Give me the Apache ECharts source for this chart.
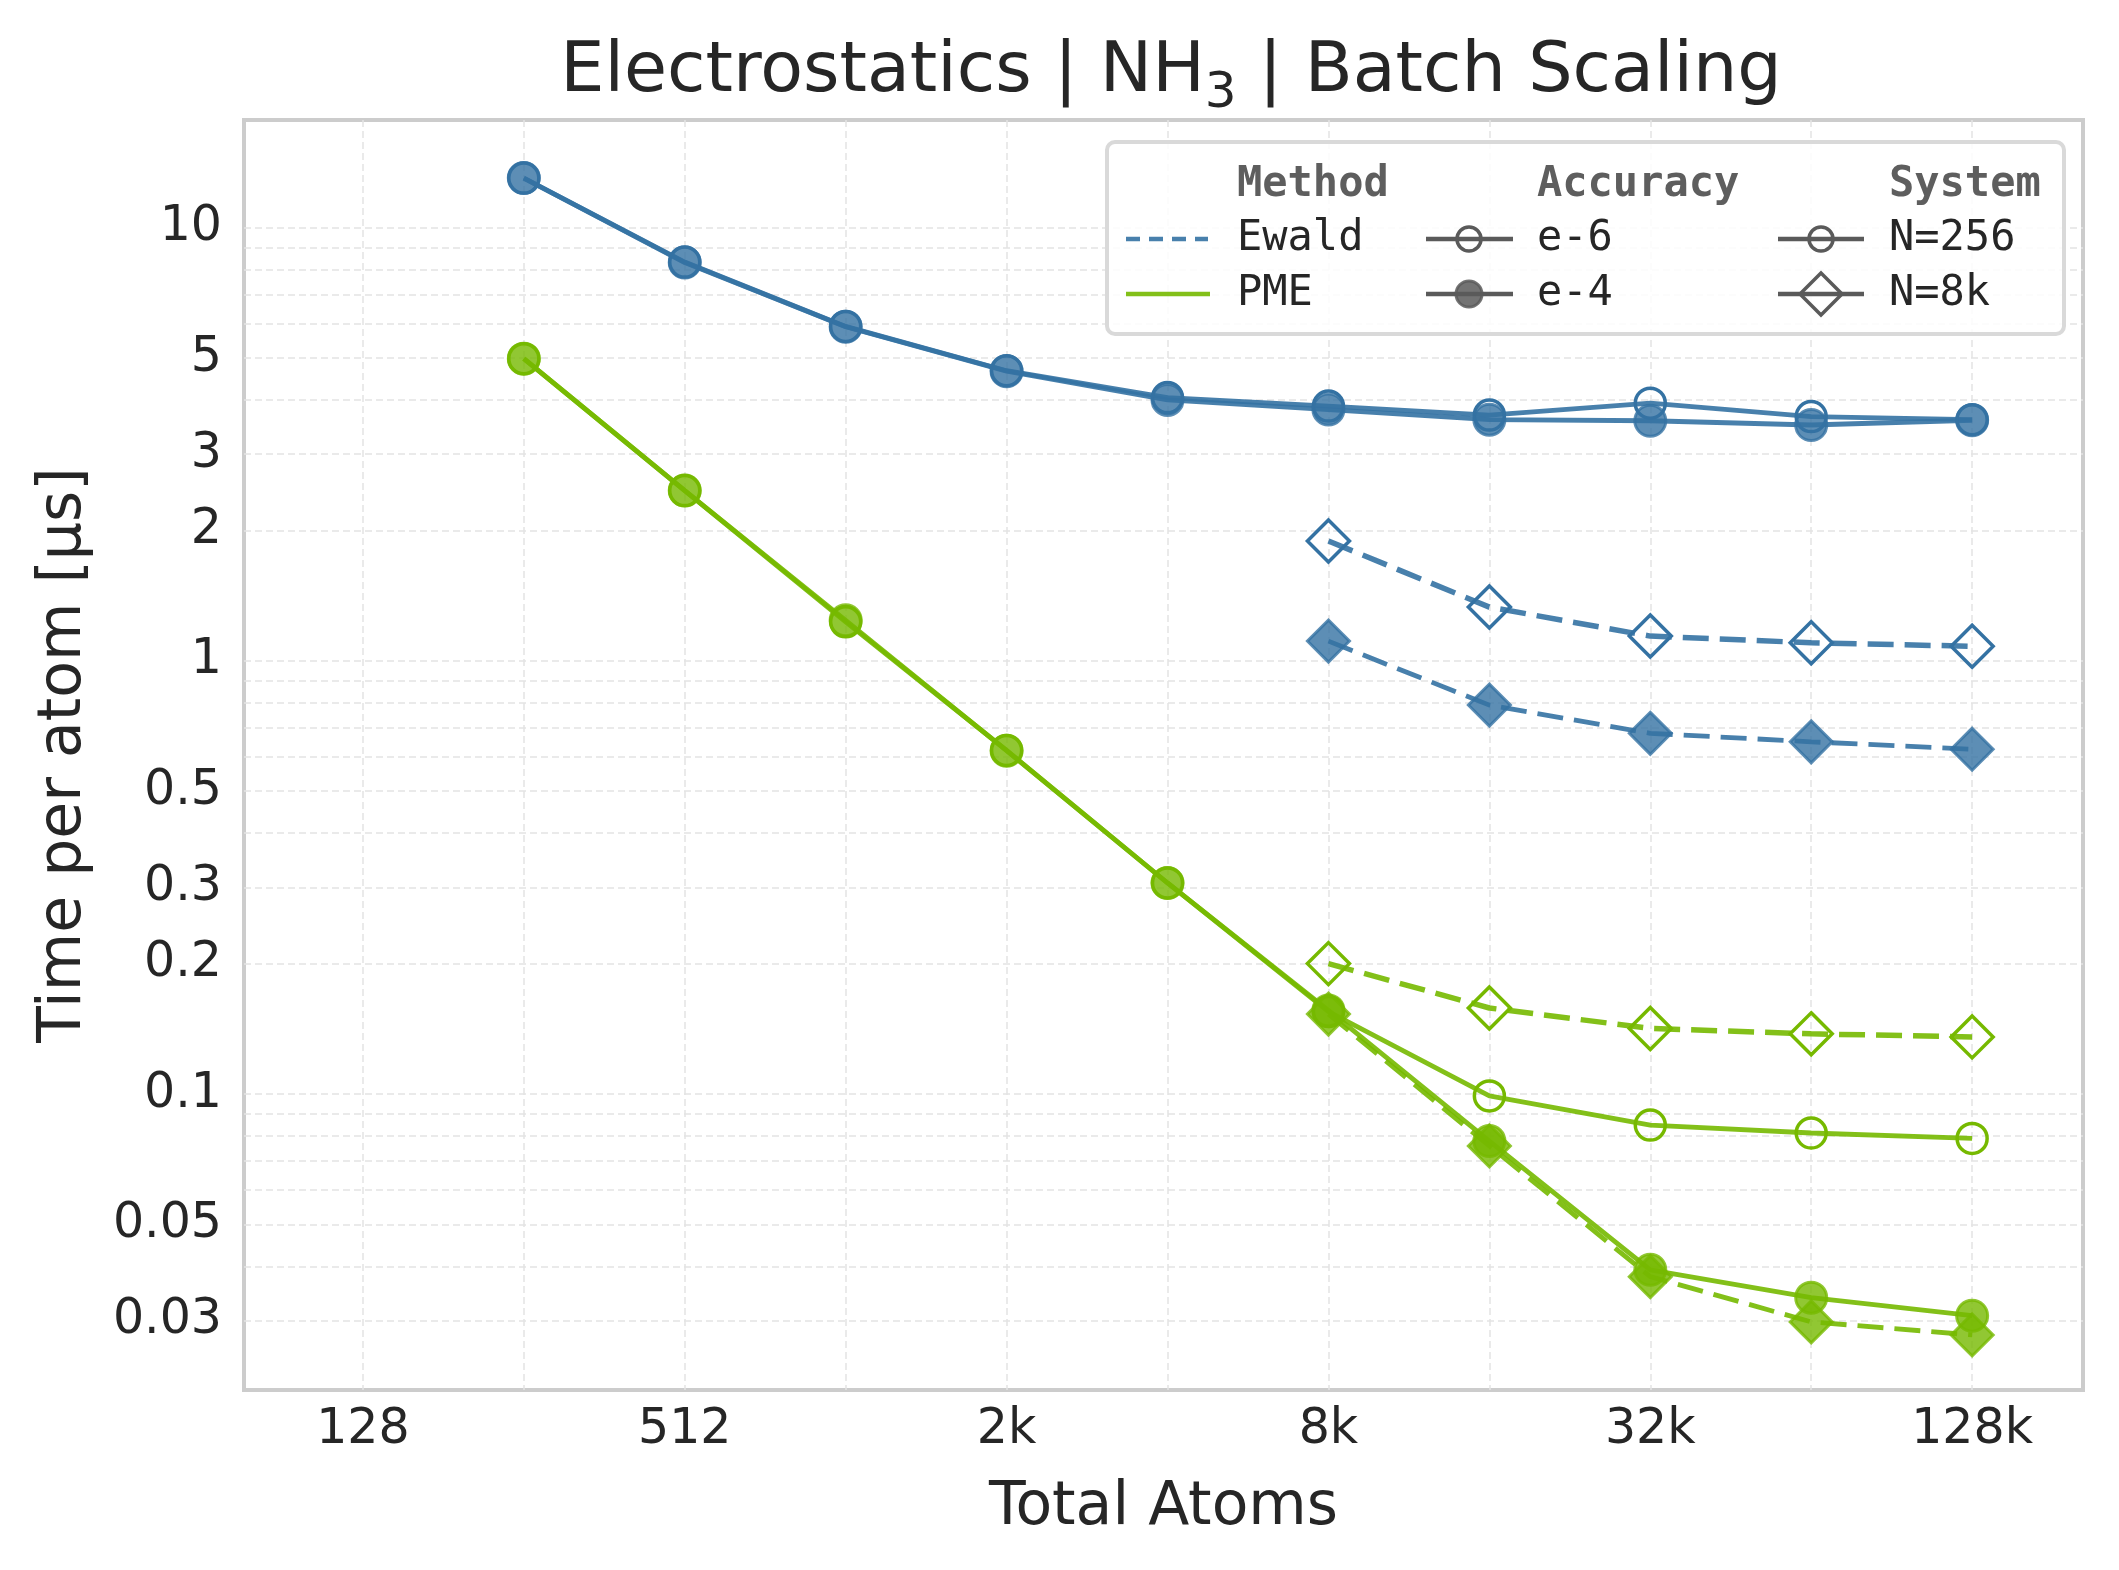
<!DOCTYPE html>
<html>
<head>
<meta charset="utf-8">
<title>Electrostatics | NH3 | Batch Scaling</title>
<script src="https://cdn.jsdelivr.net/npm/echarts@6/dist/echarts.min.js"></script>
<style>
  html, body { margin: 0; padding: 0; background: #fff; }
  #chart { width: 2119px; height: 1570px; }
</style>
</head>
<body>
<div id="chart"></div>
<script>
// total atoms (x), one list per system size
var atomsN256 = [256, 512, 1024, 2048, 4096, 8192, 16384, 32768, 65536, 131072];
var atomsN8k = [8192, 16384, 32768, 65536, 131072];

// time per atom [us]
var ewaldN256e6 = [13.0, 8.32, 5.91, 4.67, 4.05, 3.87, 3.69, 3.93, 3.66, 3.60];
var ewaldN256e4 = [13.0, 8.30, 5.90, 4.66, 4.00, 3.80, 3.60, 3.58, 3.50, 3.59];
var ewaldN8ke6 = [1.89, 1.33, 1.14, 1.10, 1.08];
var ewaldN8ke4 = [1.11, 0.79, 0.68, 0.65, 0.625];
var pmeN256e6 = [4.98, 2.47, 1.23, 0.621, 0.307, 0.155, 0.099, 0.0848, 0.0813, 0.079];
var pmeN256e4 = [4.98, 2.47, 1.24, 0.620, 0.307, 0.156, 0.0779, 0.0393, 0.0339, 0.0308];
var pmeN8ke6 = [0.200, 0.158, 0.1417, 0.1377, 0.1355];
var pmeN8ke4 = [0.153, 0.0759, 0.0379, 0.0298, 0.0278];

// axis ticks
var xTicks = [128, 256, 512, 1024, 2048, 4096, 8192, 16384, 32768, 65536, 131072];
var xLabels = [128, 512, 2048, 8192, 32768, 131072];
var yTicks = [0.03, 0.04, 0.05, 0.06, 0.07, 0.08, 0.09, 0.1, 0.2, 0.3, 0.4, 0.5, 0.6, 0.7, 0.8, 0.9,
  1, 2, 3, 4, 5, 6, 7, 8, 9, 10];
var yLabels = [0.03, 0.05, 0.1, 0.2, 0.3, 0.5, 1, 2, 3, 5, 10];

var BLUE = '#3472a3';
var BLUE_A = 'rgba(52,114,163,0.8)';
var GREEN = '#76b900';
var GREEN_A = 'rgba(118,185,0,0.8)';
var FONT = 'DejaVu Sans';
var MONO = 'DejaVu Sans Mono';

function pairs(xs, ys) {
  var out = [];
  for (var i = 0; i < xs.length; i++) out.push([xs[i], ys[i]]);
  return out;
}

function mk(name, xs, ys, color, colorA, filled, diamond, dashed, lw) {
  return {
    name: name,
    type: 'line',
    data: pairs(xs, ys),
    symbol: diamond ? 'diamond' : 'circle',
    symbolSize: diamond ? 42 : (filled ? 31 : 30),
    lineStyle: { color: color, width: lw, opacity: 0.9, type: dashed ? [26, 11] : 'solid' },
    itemStyle: filled
      ? { color: colorA, borderColor: colorA, borderWidth: 3 }
      : { color: 'rgba(0,0,0,0)', borderColor: color, borderWidth: 3.5 },
    emphasis: { disabled: true },
    z: 3
  };
}

function xFmt(v) {
  if (v >= 1024) return Math.round(v / 1024) + 'k';
  return String(v);
}

var chart = echarts.init(document.getElementById('chart'), null, { renderer: 'canvas' });

var gridLine = { show: true, lineStyle: { color: '#e3e3e3', width: 1.5, type: [7, 4] } };

// legend drawn by hand (three titled columns)
var LG = '#5a5a5a';
var LF = '42px ' + MONO;
var LH = 'bold 42px ' + MONO;
var R0 = 185, R1 = 239, R2 = 294;
var legend = [
  { type: 'rect', shape: { x: 1107, y: 142, width: 957, height: 192, r: 8 },
    style: { fill: 'rgba(255,255,255,0.85)', stroke: '#d9d9d9', lineWidth: 4 }, z: 10 },
  { type: 'text', style: { x: 1237, y: R0, text: 'Method', font: LH, fill: '#5e5e5e', textVerticalAlign: 'middle' }, z: 11 },
  { type: 'text', style: { x: 1537, y: R0, text: 'Accuracy', font: LH, fill: '#5e5e5e', textVerticalAlign: 'middle' }, z: 11 },
  { type: 'text', style: { x: 1889, y: R0, text: 'System', font: LH, fill: '#5e5e5e', textVerticalAlign: 'middle' }, z: 11 },

  { type: 'line', shape: { x1: 1126, y1: R1, x2: 1208, y2: R1 },
    style: { stroke: BLUE, lineWidth: 4.5, lineDash: [14, 9], opacity: 0.9 }, z: 11 },
  { type: 'text', style: { x: 1237, y: R1, text: 'Ewald', font: LF, fill: '#262626', textVerticalAlign: 'middle' }, z: 11 },
  { type: 'line', shape: { x1: 1126, y1: R2, x2: 1210, y2: R2 },
    style: { stroke: GREEN, lineWidth: 4.5, opacity: 0.9 }, z: 11 },
  { type: 'text', style: { x: 1237, y: R2, text: 'PME', font: LF, fill: '#262626', textVerticalAlign: 'middle' }, z: 11 },

  { type: 'line', shape: { x1: 1426, y1: R1, x2: 1513, y2: R1 }, style: { stroke: LG, lineWidth: 4.5 }, z: 11 },
  { type: 'circle', shape: { cx: 1469, cy: R1, r: 12 }, style: { fill: 'rgba(0,0,0,0)', stroke: LG, lineWidth: 3.5 }, z: 12 },
  { type: 'text', style: { x: 1537, y: R1, text: 'e-6', font: LF, fill: '#262626', textVerticalAlign: 'middle' }, z: 11 },
  { type: 'line', shape: { x1: 1426, y1: R2, x2: 1513, y2: R2 }, style: { stroke: LG, lineWidth: 4.5 }, z: 11 },
  { type: 'circle', shape: { cx: 1469, cy: R2, r: 13 }, style: { fill: 'rgba(90,90,90,0.85)', stroke: 'rgba(90,90,90,0.85)', lineWidth: 3 }, z: 12 },
  { type: 'text', style: { x: 1537, y: R2, text: 'e-4', font: LF, fill: '#262626', textVerticalAlign: 'middle' }, z: 11 },

  { type: 'line', shape: { x1: 1778, y1: R1, x2: 1864, y2: R1 }, style: { stroke: LG, lineWidth: 4.5 }, z: 11 },
  { type: 'circle', shape: { cx: 1821, cy: R1, r: 12 }, style: { fill: 'rgba(0,0,0,0)', stroke: LG, lineWidth: 3.5 }, z: 12 },
  { type: 'text', style: { x: 1889, y: R1, text: 'N=256', font: LF, fill: '#262626', textVerticalAlign: 'middle' }, z: 11 },
  { type: 'line', shape: { x1: 1778, y1: R2, x2: 1864, y2: R2 }, style: { stroke: LG, lineWidth: 4.5 }, z: 11 },
  { type: 'polygon', shape: { points: [[1821, R2 - 21], [1842, R2], [1821, R2 + 21], [1800, R2]] },
    style: { fill: 'rgba(0,0,0,0)', stroke: LG, lineWidth: 3.5 }, z: 12 },
  { type: 'text', style: { x: 1889, y: R2, text: 'N=8k', font: LF, fill: '#262626', textVerticalAlign: 'middle' }, z: 11 }
];

chart.setOption({
  animation: false,
  backgroundColor: '#ffffff',
  title: {
    text: '{a|Electrostatics | NH}{s|3}{a| | Batch Scaling}',
    left: 1166,
    textAlign: 'center',
    top: 22,
    textStyle: {
      fontWeight: 'normal',
      rich: {
        a: { fontFamily: FONT, fontSize: 70, fontWeight: 'normal', color: '#262626', lineHeight: 92 },
        s: { fontFamily: FONT, fontSize: 50, fontWeight: 'normal', color: '#262626', lineHeight: 52, verticalAlign: 'bottom' }
      }
    }
  },
  grid: {
    left: 244, top: 120, width: 1839, height: 1270,
    show: true, borderColor: '#cccccc', borderWidth: 4, backgroundColor: 'transparent',
    containLabel: false, outerBoundsMode: 'none'
  },
  xAxis: {
    type: 'log',
    logBase: 2,
    min: 76.7,
    max: 211300,
    name: 'Total Atoms',
    nameLocation: 'middle',
    nameGap: 88,
    nameTextStyle: { fontFamily: FONT, fontSize: 60, color: '#262626' },
    axisLine: { show: false },
    axisTick: { show: false, customValues: xTicks },
    axisLabel: { customValues: xLabels, formatter: xFmt, fontFamily: FONT, fontSize: 49, color: '#262626', margin: 16 },
    splitLine: gridLine,
    minorTick: { show: false },
    minorSplitLine: { show: false }
  },
  yAxis: {
    type: 'log',
    logBase: 10,
    min: 0.02075,
    max: 17.7,
    name: 'Time per atom [μs]',
    nameLocation: 'middle',
    nameGap: 150,
    nameTextStyle: { fontFamily: FONT, fontSize: 60, color: '#262626' },
    axisLine: { show: false },
    axisTick: { show: false, customValues: yTicks },
    axisLabel: { customValues: yLabels, formatter: function (v) { return String(v); },
      fontFamily: FONT, fontSize: 49, color: '#262626', margin: 22 },
    splitLine: gridLine,
    minorTick: { show: false },
    minorSplitLine: { show: false }
  },
  graphic: legend,
  series: [
    mk('Ewald N=256 e-6', atomsN256, ewaldN256e6, BLUE, BLUE_A, false, false, false, 4.8),
    mk('Ewald N=256 e-4', atomsN256, ewaldN256e4, BLUE, BLUE_A, true, false, false, 4.8),
    mk('Ewald N=8k e-6', atomsN8k, ewaldN8ke6, BLUE, BLUE_A, false, true, true, 5.5),
    mk('Ewald N=8k e-4', atomsN8k, ewaldN8ke4, BLUE, BLUE_A, true, true, true, 4.8),
    mk('PME N=256 e-6', atomsN256, pmeN256e6, GREEN, GREEN_A, false, false, false, 4.8),
    mk('PME N=256 e-4', atomsN256, pmeN256e4, GREEN, GREEN_A, true, false, false, 4.8),
    mk('PME N=8k e-6', atomsN8k, pmeN8ke6, GREEN, GREEN_A, false, true, true, 5.5),
    mk('PME N=8k e-4', atomsN8k, pmeN8ke4, GREEN, GREEN_A, true, true, true, 4.8)
  ]
});
</script>
</body>
</html>
